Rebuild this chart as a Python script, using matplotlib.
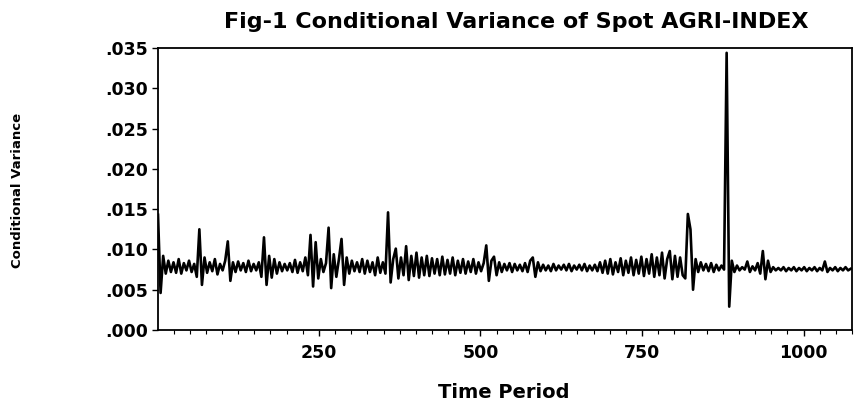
import numpy as np
import matplotlib.pyplot as plt
from matplotlib.ticker import FuncFormatter, MultipleLocator

# conditional variance, in units of 1e-4, one value every 4 periods
var_e4 = [
    143, 46, 92, 70, 86, 72, 84, 71, 88, 70,
    83, 74, 86, 72, 82, 66, 125, 56, 90, 71,
    84, 73, 88, 69, 82, 74, 86, 110, 61, 84,
    72, 85, 74, 83, 72, 86, 73, 82, 74, 84,
    66, 115, 56, 92, 65, 88, 70, 84, 73, 82,
    74, 83, 72, 87, 71, 84, 73, 90, 68, 118,
    54, 109, 64, 88, 72, 83, 127, 52, 94, 66,
    88, 113, 56, 90, 70, 86, 73, 84, 72, 88,
    70, 86, 72, 84, 68, 90, 71, 84, 70, 146,
    59, 88, 101, 64, 90, 68, 104, 62, 92, 67,
    96, 65, 90, 68, 92, 67, 89, 70, 88, 68,
    91, 69, 87, 70, 90, 68, 86, 71, 88, 70,
    85, 72, 88, 70, 84, 73, 83, 105, 61, 86,
    91, 68, 84, 72, 82, 74, 83, 72, 82, 74,
    81, 73, 83, 72, 86, 90, 66, 84, 73, 81,
    74, 80, 73, 82, 74, 80, 75, 81, 74, 82,
    73, 80, 75, 81, 74, 82, 73, 80, 74, 81,
    73, 84, 71, 86, 70, 88, 69, 84, 72, 89,
    68, 86, 71, 90, 68, 87, 70, 91, 67, 88,
    70, 94, 66, 90, 68, 96, 64, 88, 98, 63,
    92, 66, 90, 68, 64, 144, 125, 50, 88, 72,
    84, 74, 82, 73, 83, 72, 81, 74, 80, 75,
    344, 29, 86, 72, 80, 74, 78, 75, 85, 72,
    79, 74, 83, 70, 98, 63, 86, 72, 78, 74,
    77, 74, 78, 73, 77, 74, 78, 73, 77, 74,
    78, 73, 77, 74, 78, 73, 77, 74, 85, 72,
    77, 74, 78, 73, 77, 74, 78, 74, 76,
]
period = np.arange(1, 4 * len(var_e4), 4)
variance = np.array(var_e4) * 1e-4

x_ticks = [250, 500, 750, 1000]
y_ticks = [0.000, 0.005, 0.010, 0.015, 0.020, 0.025, 0.030, 0.035]

fig = plt.figure(figsize=(8.56, 4.03), dpi=100)
ax = fig.add_axes([158 / 856, 73 / 403, 694 / 856, 282 / 403])

ax.plot(period, variance, color="black", linewidth=1.9)

ax.set_xlim(1, 1075)
ax.set_ylim(0, 0.035)
ax.set_xticks(x_ticks)
ax.xaxis.set_minor_locator(MultipleLocator(25))
ax.set_yticks(y_ticks)
ax.yaxis.set_major_formatter(FuncFormatter(lambda v, p: ("%.3f" % v)[1:]))

ax.tick_params(axis="both", direction="out", length=4, width=1, labelsize=12.5)
ax.tick_params(axis="x", which="minor", direction="out", length=3, width=0.8)
ax.tick_params(axis="x", pad=6)
ax.tick_params(axis="y", pad=3)
for lab in ax.get_xticklabels() + ax.get_yticklabels():
    lab.set_fontweight("bold")
for s in ax.spines.values():
    s.set_linewidth(1.3)

fig.text(516 / 856, 1 - 22 / 403, "Fig-1 Conditional Variance of Spot AGRI-INDEX",
         ha="center", va="center", fontsize=16, fontweight="bold")
fig.text(504 / 856, 1 - 392 / 403, "Time Period", ha="center", va="center",
         fontsize=14, fontweight="bold")
fig.text(18 / 856, 1 - 190 / 403, "Conditional Variance", rotation=90,
         ha="center", va="center", fontsize=9.5, fontweight="bold")

fig.savefig("out.png", dpi=100)
